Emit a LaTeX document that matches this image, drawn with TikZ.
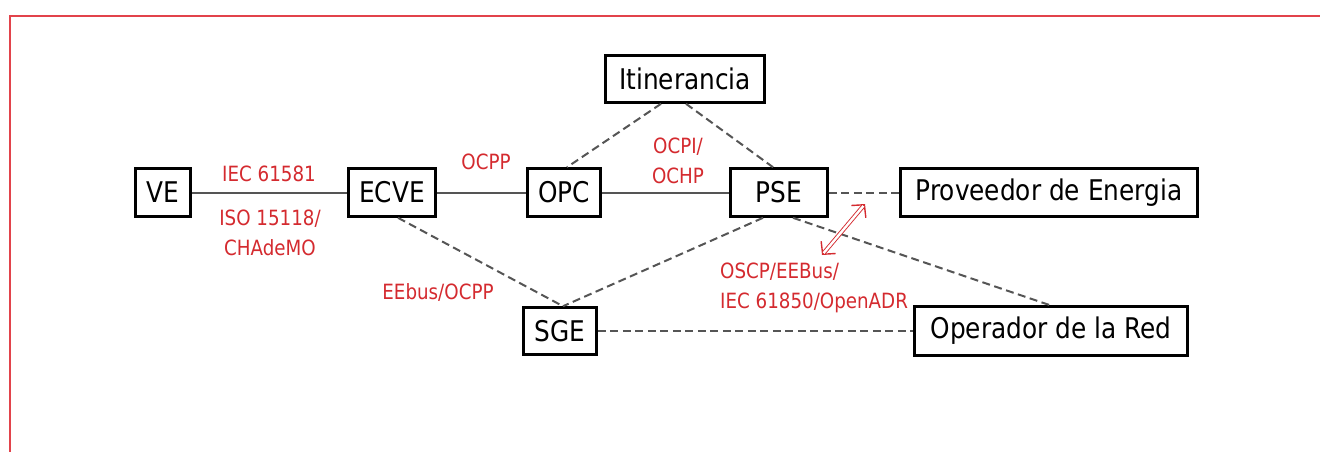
\documentclass[tikz,border=0pt]{standalone}
\usepackage{fontspec}
\setmainfont{DejaVu Sans}[FakeStretch=0.87]
\usetikzlibrary{arrows.meta,calc}
\definecolor{lbl}{HTML}{D42A2F}
\definecolor{frame}{HTML}{E2434B}
\definecolor{conn}{HTML}{555555}
\tikzset{
  box/.style={draw=black, line width=2.6pt, inner sep=0pt, font=\fontsize{28.5}{30}\selectfont},
  lab/.style={text=lbl, inner sep=0pt, font=\fontsize{21}{29.5}\selectfont, align=center},
  solidc/.style={draw=conn, line width=2pt},
  dashc/.style={draw=conn, line width=2pt, dash pattern=on 8pt off 4.5pt},
}
\begin{document}
\begin{tikzpicture}[x=1pt,y=-1pt]
\useasboundingbox (0,0) rectangle (1320,451);
\draw[frame, line width=1.2pt] (10,460) -- (10,16) -- (1330,16);
% nodes
\node[box, minimum width=55pt, minimum height=48pt] (ve) at (163,192.5) {VE};
\node[box, minimum width=87pt, minimum height=48pt] (ecve) at (392,192.5) {ECVE};
\node[box, minimum width=73pt, minimum height=48pt] (opc) at (564,192.5) {OPC};
\node[box, minimum width=97pt, minimum height=48pt] (pse) at (779,192.5) {PSE};
\node[box, minimum width=159pt, minimum height=47pt] (itin) at (685,79) {Itinerancia};
\node[box, minimum width=297pt, minimum height=48pt] (prov) at (1049,192.5) {Proveedor de Energia};
\node[box, minimum width=73pt, minimum height=47pt] (sge) at (560,331) {SGE};
\node[box, minimum width=273pt, minimum height=49pt] (oper) at (1051,331) {Operador de la Red};
% solid connectors
\draw[solidc] (ve) -- (ecve);
\draw[solidc] (ecve) -- (opc);
\draw[solidc] (opc) -- (pse);
% dashed connectors
\draw[dashc] ($(itin.south)+(-24,0)$) -- ($(opc.north)+(3,0)$);
\draw[dashc] ($(itin.south)+(1,0)$) -- ($(pse.north)+(-6,0)$);
\draw[dashc] ($(ecve.south)+(6,0)$) -- ($(sge.north)+(3,0)$);
\draw[dashc] ($(pse.south)+(-16,0)$) -- ($(sge.north)+(3,0)$);
\draw[dashc] ($(pse.south)+(14,0)$) -- ($(oper.north)+(-1,0)$);
\draw[dashc] (pse) -- (prov);
\draw[dashc] (sge) -- (oper);
% double arrow
\coordinate (da) at (822,255);
\coordinate (db) at (865,204);
\draw[draw=lbl, line width=1.4pt,
  {Straight Barb[length=9pt, width=19pt]}-{Straight Barb[length=9pt, width=19pt]}] (da) -- (db);
\draw[draw=lbl, line width=0.9pt, double=white, double distance=2.4pt,
  shorten <=2.5pt, shorten >=2.5pt] (da) -- (db);
% labels
\node[lab, anchor=base] (l1) at (269,181) {IEC 61581};
\node[lab, anchor=base] (l2) at (270,255) {ISO 15118/\\CHAdeMO};
\node[lab, anchor=base] (l3) at (486,169) {OCPP};
\node[lab, anchor=base] (l4) at (678,183) {OCPI/\\OCHP};
\node[lab, anchor=base] (l5) at (438,299) {EEbus/OCPP};
\node[lab, anchor=base west, align=left] (l6) at (720,308) {OSCP/EEBus/\\IEC 61850/OpenADR};
\end{tikzpicture}
\end{document}
